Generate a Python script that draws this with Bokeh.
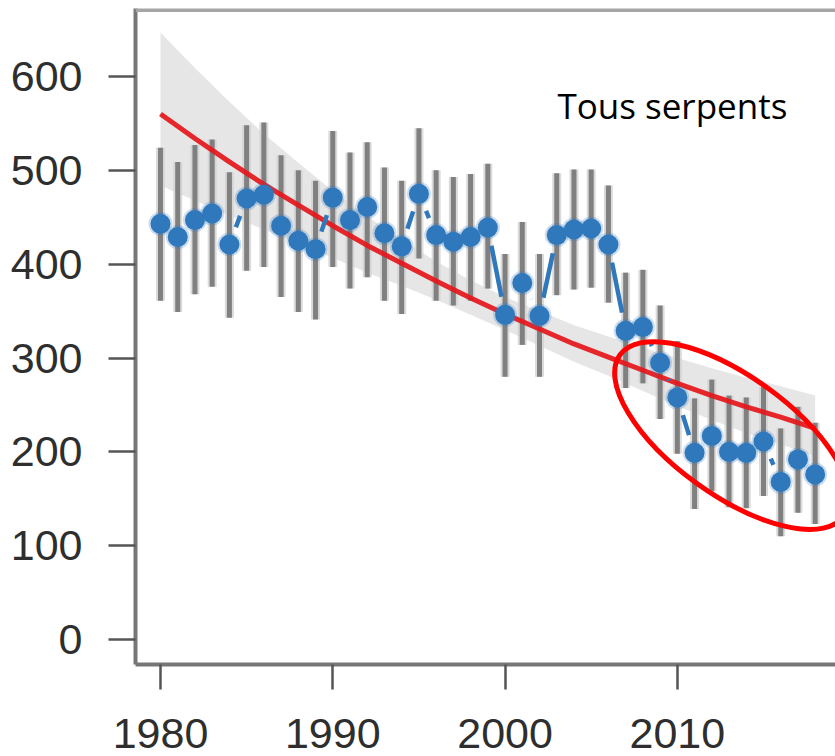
import math

from bokeh.embed import file_html
from bokeh.models import FixedTicker, Label, Range1d, Span
from bokeh.plotting import figure
from bokeh.resources import INLINE

# Annual index, 1980-2018, with its interval
years = list(range(1980, 2019))
counts = [443, 429, 447, 454, 421, 470, 474, 441, 425, 416,
          471, 447, 461, 433, 419, 475, 431, 424, 429, 439,
          346, 380, 345, 431, 437, 438, 421, 329, 333, 295,
          258, 199, 217, 200, 199, 211, 168, 192, 176]
lower = [361, 349, 368, 376, 343, 393, 397, 365, 349, 341,
         397, 374, 386, 361, 347, 406, 361, 356, 361, 374,
         280, 314, 280, 367, 373, 375, 359, 268, 273, 235,
         198, 139, 158, 141, 140, 153, 110, 135, 123]
upper = [524, 509, 527, 533, 498, 548, 551, 516, 500, 489,
         542, 519, 530, 503, 489, 545, 500, 493, 496, 507,
         411, 445, 411, 497, 501, 501, 484, 391, 394, 356,
         318, 257, 277, 260, 258, 269, 225, 248, 231]

# Fitted trend and its confidence band
trend_years = list(range(1980, 2019, 2))
trend = [560, 534, 509, 485, 463, 441, 420, 401, 382, 364,
         347, 331, 315, 301, 287, 273, 260, 248, 237, 225]
band_lo = [484, 468, 452, 437, 422, 407, 391, 377, 362, 346,
           330, 313, 296, 281, 265, 249, 234, 220, 208, 195]
band_hi = [647, 609, 573, 539, 508, 478, 451, 426, 403, 383,
           365, 350, 335, 323, 311, 300, 289, 279, 270, 260]

x_ticks = [1980, 1990, 2000, 2010]
y_ticks = [0, 100, 200, 300, 400, 500, 600]

# Page and frame geometry (pixels)
W, H = 835, 756
FRAME_L, FRAME_T, FRAME_B = 135, 8, 664
X0, X1 = 1978.55, 2019.18
Y0, Y1 = -26.6, 672.5
sx = (W - FRAME_L) / (X1 - X0)
sy = (FRAME_B - FRAME_T) / (Y1 - Y0)

BLUE = "#2f78bc"
GREY_BAR = "#808080"
RED = "#e5161b"

p = figure(width=W, height=H, output_backend="svg", toolbar_location=None,
           x_range=Range1d(X0, X1), y_range=Range1d(Y0, Y1),
           min_border_left=FRAME_L, min_border_right=0,
           min_border_top=FRAME_T, min_border_bottom=H - FRAME_B)
p.outline_line_color = None
p.grid.visible = False
p.background_fill_color = "white"
p.border_fill_color = "white"

# confidence band of the trend
p.varea(x=trend_years, y1=band_lo, y2=band_hi, fill_color="#e6e6e6", fill_alpha=1.0)

# interval bars (soft edge + core)
p.segment(x0=years, y0=lower, x1=years, y1=upper, line_color="#d2d2d2",
          line_width=9, line_alpha=0.8)
p.segment(x0=years, y0=lower, x1=years, y1=upper, line_color=GREY_BAR, line_width=5)

# trend line
p.line(trend_years, trend, line_color=RED, line_width=5, line_alpha=0.92)

# connecting line broken around each point
GAP = 18.5
sx0, sy0, sx1, sy1 = [], [], [], []
for i in range(len(years) - 1):
    dx = (years[i + 1] - years[i]) * sx
    dy = (counts[i + 1] - counts[i]) * sy
    length = math.hypot(dx, dy)
    if length > 2 * GAP:
        f0, f1 = GAP / length, 1 - GAP / length
        sx0.append(years[i] + f0 * (years[i + 1] - years[i]))
        sy0.append(counts[i] + f0 * (counts[i + 1] - counts[i]))
        sx1.append(years[i] + f1 * (years[i + 1] - years[i]))
        sy1.append(counts[i] + f1 * (counts[i + 1] - counts[i]))
p.segment(x0=sx0, y0=sy0, x1=sx1, y1=sy1, line_color=BLUE, line_width=4.5)

# points
p.scatter(years, counts, size=24, fill_color=BLUE, fill_alpha=0.25, line_color=None)
p.scatter(years, counts, size=20, fill_color=BLUE, line_color=None)

# highlight of the recent decline
hl_x, hl_y = 2013.17, 217.4
p.ellipse(x=[hl_x], y=[hl_y], width=276, height=119, angle=-0.623,
          width_units="screen", height_units="screen",
          fill_color=None, line_color="#ff0000", line_width=5)

# top border of the box
p.add_layout(Span(location=Y1 - 1.5 / sy, dimension="width",
                  line_color="#a5a5a5", line_width=4))

p.add_layout(Label(x=2003.04, y=569, text="Tous serpents", text_font="Open Sans",
                   text_font_size="35px", text_color="black",
                   text_baseline="alphabetic", text_align="left"))

for ax, ticks, tick_out, standoff in ((p.xaxis, x_ticks, 25, 29), (p.yaxis, y_ticks, 27, 26)):
    ax.ticker = FixedTicker(ticks=ticks)
    ax.axis_line_color = "#767676"
    ax.axis_line_width = 4
    ax.major_tick_line_color = "#555555"
    ax.major_tick_line_width = 2.5
    ax.major_tick_out = tick_out
    ax.major_tick_in = 0
    ax.minor_tick_line_color = None
    ax.major_label_text_font = "Liberation Sans"
    ax.major_label_text_font_size = "43px"
    ax.major_label_text_color = "#2e2e2e"
    ax.major_label_standoff = standoff

open("out.html", "w").write(file_html(p, INLINE))
